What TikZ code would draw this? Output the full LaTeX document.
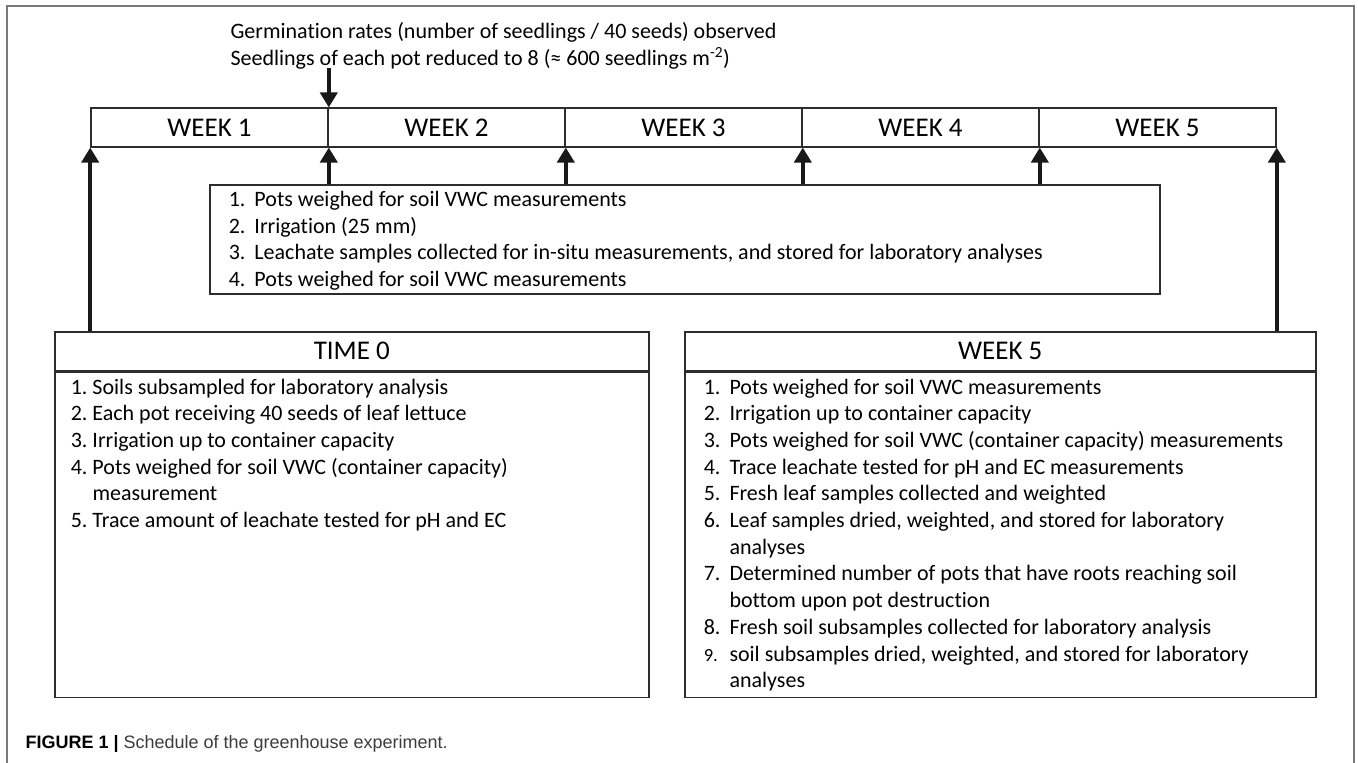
\documentclass[tikz,border=0pt]{standalone}
\usepackage{fontspec}
\setmainfont{Carlito}[Ligatures=NoCommon]
\newfontfamily\capfont{Liberation Sans}
\usetikzlibrary{arrows.meta,positioning}
\definecolor{boxgray}{RGB}{45,45,45}
\definecolor{framegray}{RGB}{120,120,120}
\definecolor{capgray}{RGB}{60,60,60}
\tikzset{
  weekcell/.style={draw=boxgray,line width=1.6pt,minimum width=237pt,minimum height=38.5pt,inner sep=0pt,font=\fontsize{27}{32}\selectfont},
  headcell/.style={draw=boxgray,line width=1.6pt,anchor=north west,minimum height=39pt,inner sep=0pt,font=\fontsize{27}{32}\selectfont},
  listcell/.style={draw=boxgray,line width=1.6pt,inner ysep=3pt,font=\fontsize{22}{26.7}\selectfont},
  upline/.style={draw=black!90,line width=4pt,-{Triangle[width=17pt,length=15pt]}},
}
\begin{document}
\begin{tikzpicture}[x=1pt,y=1pt,yscale=-1,xscale=1]
\useasboundingbox (0,0) rectangle (1358,763);

%Frame
\draw [framegray,line width=1.6pt] (7,763) -- (7,6) -- (1354,6) -- (1354,763) ;

%Text: germination
\node [anchor=west,align=left,font=\fontsize{22}{27}\selectfont] (germ) at (227,45.5) {Germination rates (number of seedlings / 40 seeds) observed\\Seedlings of each pot reduced to 8 (≈ 600 seedlings m\textsuperscript{-2})};

%Time line
\foreach \i in {1,...,5}
  \node [weekcell] (w\i) at ({91+237*(\i-0.5)},127.5) {WEEK \i};

%Weekly routine
\node [listcell,anchor=north west,inner xsep=19pt] (routine) at (209,184) {\parbox[c][103pt][t]{912pt}{\begin{tabular}{@{}l@{\hspace{9pt}}l@{}}
1. & Pots weighed for soil VWC measurements\\
2. & Irrigation (25 mm)\\
3. & Leachate samples collected for in-situ measurements, and stored for laboratory analyses\\
4. & Pots weighed for soil VWC measurements
\end{tabular}}};

%Time 0
\node [headcell,minimum width=594pt] (t0head) at (54,331) {TIME 0};
\node [listcell,below=0pt of t0head,inner xsep=16pt] (t0body) {\parbox[c][319pt][t]{562pt}{\begin{tabular}{@{}l@{\hspace{5pt}}l@{}}
1. & Soils subsampled for laboratory analysis\\
2. & Each pot receiving 40 seeds of leaf lettuce\\
3. & Irrigation up to container capacity\\
4. & Pots weighed for soil VWC (container capacity)\\
   & measurement\\
5. & Trace amount of leachate tested for pH and EC
\end{tabular}}};

%Week 5
\node [headcell,minimum width=631pt] (w5head) at (684,331) {WEEK 5};
\node [listcell,below=0pt of w5head,inner xsep=19pt] (w5body) {\parbox[c][319pt][t]{593pt}{\begin{tabular}{@{}l@{\hspace{9pt}}l@{}}
1. & Pots weighed for soil VWC measurements\\
2. & Irrigation up to container capacity\\
3. & Pots weighed for soil VWC (container capacity) measurements\\
4. & Trace leachate tested for pH and EC measurements\\
5. & Fresh leaf samples collected and weighted\\
6. & Leaf samples dried, weighted, and stored for laboratory\\
   & analyses\\
7. & Determined number of pots that have roots reaching soil\\
   & bottom upon pot destruction\\
8. & Fresh soil subsamples collected for laboratory analysis\\
{\fontsize{18.5}{26.7}\selectfont 9.} & soil subsamples dried, weighted, and stored for laboratory\\
   & analyses
\end{tabular}}};

%Arrows
\coordinate [above=39pt of w1.north east] (gtail);
\draw [upline] (gtail) -- (w1.north east) ;
\draw [upline] (t0head.north -| w1.south west) -- (w1.south west) ;
\foreach \i in {1,...,4}
  \draw [upline] (routine.north -| w\i.south east) -- (w\i.south east) ;
\draw [upline] (w5head.north -| w5.south east) -- (w5.south east) ;

%Caption
\node [anchor=west,font=\capfont\fontsize{18}{21}\selectfont] (caption) at (22,744) {\textbf{FIGURE 1 |} \textcolor{capgray}{Schedule of the greenhouse experiment.}};
\end{tikzpicture}
\end{document}
